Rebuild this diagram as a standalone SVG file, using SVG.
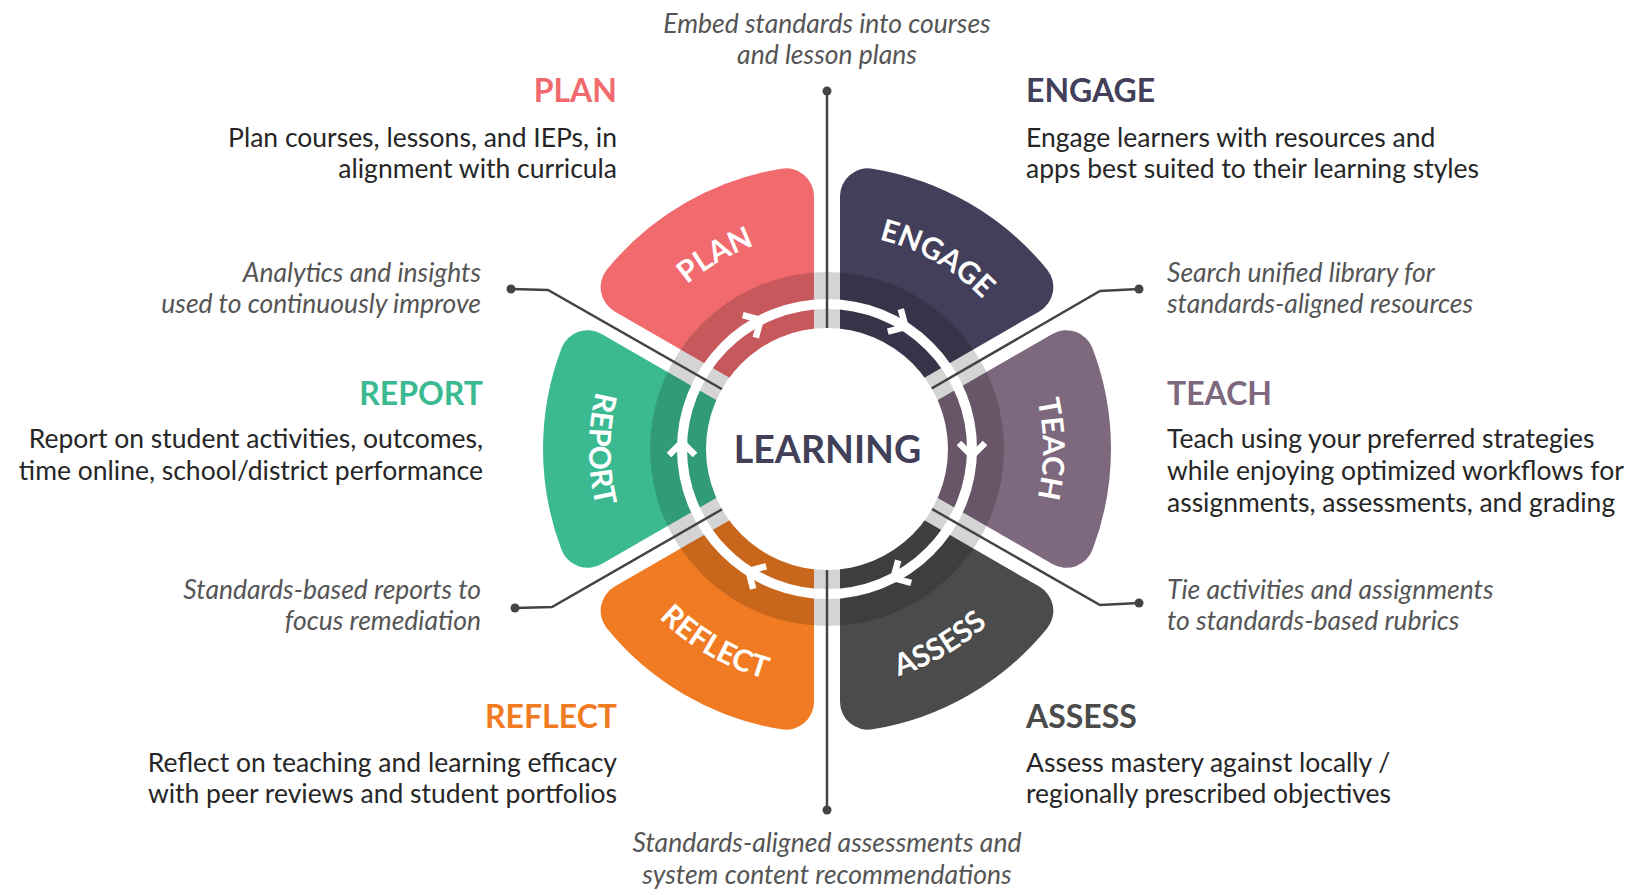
<svg xmlns="http://www.w3.org/2000/svg" xmlns:xlink="http://www.w3.org/1999/xlink" width="1633" height="895" viewBox="0 0 1633 895">
<style>
.h{font-family:Lato,"Liberation Sans",sans-serif;font-weight:700;font-size:32px}
.b{font-family:Lato,"Liberation Sans",sans-serif;font-size:26.5px;fill:#262626}
.n{font-family:Lato,"Liberation Sans",sans-serif;font-style:italic;font-size:26.5px;fill:#555}
.lbl{font-family:Lato,"Liberation Sans",sans-serif;font-weight:700;font-size:30px;fill:#fff}
.ctr{font-family:Lato,"Liberation Sans",sans-serif;font-weight:700;font-size:37.5px;fill:#423f59}
.con{fill:none;stroke:#444;stroke-width:2.5}
.dot{fill:#444}
.chev{fill:none;stroke:#fff;stroke-width:6.5;stroke-linejoin:miter}
</style>
<defs>
<path id="seg" d="M 38.74,-93.10 L 115.09,-225.34 A 28 28 0 0 0 100.77,-265.51 A 284 284 0 0 0 -100.77,-265.51 A 28 28 0 0 0 -115.09,-225.34 L -38.74,-93.10 Z"/>
<path id="pPlan" d="M 639.94 341 A 216 216 0 0 1 827 233"/>
<path id="pEngage" d="M 827 233 A 216 216 0 0 1 1014.06 341"/>
<path id="pTeach" d="M 1014.06 341 A 216 216 0 0 1 1014.06 557"/>
<path id="pReport" d="M 620.89 330 A 238 238 0 0 0 620.89 568"/>
<path id="pReflect" d="M 620.89 568 A 238 238 0 0 0 827 687"/>
<path id="pAssess" d="M 827 687 A 238 238 0 0 0 1033.11 568"/>
<path id="chev" d="M 959 443 L 972 456 L 985 443"/>
</defs>
<rect width="1633" height="895" fill="#fff"/>

<g id="plan">
<use xlink:href="#seg" href="#seg" transform="translate(827,449) rotate(-30)" fill="#f06a6e"/>
<text class="lbl"><textPath xlink:href="#pPlan" href="#pPlan" startOffset="50%" text-anchor="middle">PLAN</textPath></text>
</g>
<g id="engage">
<use xlink:href="#seg" href="#seg" transform="translate(827,449) rotate(30)" fill="#433f5a"/>
<text class="lbl"><textPath xlink:href="#pEngage" href="#pEngage" startOffset="50%" text-anchor="middle">ENGAGE</textPath></text>
</g>
<g id="teach">
<use xlink:href="#seg" href="#seg" transform="translate(827,449) rotate(90)" fill="#7d687d"/>
<text class="lbl"><textPath xlink:href="#pTeach" href="#pTeach" startOffset="50%" text-anchor="middle">TEACH</textPath></text>
</g>
<g id="assess">
<use xlink:href="#seg" href="#seg" transform="translate(827,449) rotate(150)" fill="#4a4b4a"/>
<text class="lbl"><textPath xlink:href="#pAssess" href="#pAssess" startOffset="50%" text-anchor="middle">ASSESS</textPath></text>
</g>
<g id="reflect">
<use xlink:href="#seg" href="#seg" transform="translate(827,449) rotate(210)" fill="#f17b22"/>
<text class="lbl"><textPath xlink:href="#pReflect" href="#pReflect" startOffset="50%" text-anchor="middle">REFLECT</textPath></text>
</g>
<g id="report">
<use xlink:href="#seg" href="#seg" transform="translate(827,449) rotate(-90)" fill="#3bba92"/>
<text class="lbl"><textPath xlink:href="#pReport" href="#pReport" startOffset="50%" text-anchor="middle">REPORT</textPath></text>
</g>

<g id="cycle-ring">
<circle cx="827" cy="449" r="177" fill="#000" fill-opacity="0.17"/>
<circle cx="827" cy="449" r="145" fill="none" stroke="#fff" stroke-width="10"/>
<use xlink:href="#chev" href="#chev" class="chev"/>
<use xlink:href="#chev" href="#chev" class="chev" transform="rotate(60 827 449)"/>
<use xlink:href="#chev" href="#chev" class="chev" transform="rotate(120 827 449)"/>
<use xlink:href="#chev" href="#chev" class="chev" transform="rotate(180 827 449)"/>
<use xlink:href="#chev" href="#chev" class="chev" transform="rotate(240 827 449)"/>
<use xlink:href="#chev" href="#chev" class="chev" transform="rotate(300 827 449)"/>
</g>

<g id="connectors">
<path class="con" d="M 827 91 V 449"/>
<path class="con" d="M 827 810 V 449"/>
<path class="con" d="M 511 289 L 548 290 L 827 449"/>
<path class="con" d="M 1139 289 L 1100 291 L 827 449"/>
<path class="con" d="M 515 608 L 552 607 L 827 449"/>
<path class="con" d="M 1139 603 L 1100 605 L 827 449"/>
<circle class="dot" cx="827" cy="91" r="4.5"/>
<circle class="dot" cx="827" cy="810" r="4.5"/>
<circle class="dot" cx="511" cy="289" r="4.5"/>
<circle class="dot" cx="1139" cy="289" r="4.5"/>
<circle class="dot" cx="515" cy="608" r="4.5"/>
<circle class="dot" cx="1139" cy="603" r="4.5"/>
</g>

<g id="learning">
<circle cx="827" cy="449" r="121" fill="#fff"/>
<text class="ctr" x="827.5" y="463" text-anchor="middle">LEARNING</text>
</g>

<g id="plan-text">
<text class="h" x="617" y="102" text-anchor="end" fill="#f06a6e">PLAN</text>
<text class="b" x="617" y="147" text-anchor="end">Plan courses, lessons, and IEPs, in</text>
<text class="b" x="617" y="178" text-anchor="end">alignment with curricula</text>
</g>
<g id="engage-text">
<text class="h" x="1026" y="102" fill="#433f5a">ENGAGE</text>
<text class="b" x="1026" y="147">Engage learners with resources and</text>
<text class="b" x="1026" y="178">apps best suited to their learning styles</text>
</g>
<g id="report-text">
<text class="h" x="483" y="405" text-anchor="end" fill="#3bba92">REPORT</text>
<text class="b" x="483" y="448" text-anchor="end">Report on student activities, outcomes,</text>
<text class="b" x="483" y="480" text-anchor="end">time online, school/district performance</text>
</g>
<g id="teach-text">
<text class="h" x="1167" y="405" fill="#7d687d">TEACH</text>
<text class="b" x="1167" y="448">Teach using your preferred strategies</text>
<text class="b" x="1167" y="480">while enjoying optimized workflows for</text>
<text class="b" x="1167" y="512">assignments, assessments, and grading</text>
</g>
<g id="reflect-text">
<text class="h" x="617" y="728" text-anchor="end" fill="#f17b22">REFLECT</text>
<text class="b" x="617" y="772" text-anchor="end">Reflect on teaching and learning efficacy</text>
<text class="b" x="617" y="803" text-anchor="end">with peer reviews and student portfolios</text>
</g>
<g id="assess-text">
<text class="h" x="1026" y="728" fill="#4a4b4a">ASSESS</text>
<text class="b" x="1026" y="772">Assess mastery against locally /</text>
<text class="b" x="1026" y="803">regionally prescribed objectives</text>
</g>

<g id="note-top">
<text class="n" x="827" y="33" text-anchor="middle">Embed standards into courses</text>
<text class="n" x="827" y="64" text-anchor="middle">and lesson plans</text>
</g>
<g id="note-upper-left">
<text class="n" x="481" y="282" text-anchor="end">Analytics and insights</text>
<text class="n" x="481" y="313" text-anchor="end">used to continuously improve</text>
</g>
<g id="note-upper-right">
<text class="n" x="1167" y="282">Search unified library for</text>
<text class="n" x="1167" y="313">standards-aligned resources</text>
</g>
<g id="note-lower-left">
<text class="n" x="481" y="599" text-anchor="end">Standards-based reports to</text>
<text class="n" x="481" y="630" text-anchor="end">focus remediation</text>
</g>
<g id="note-lower-right">
<text class="n" x="1167" y="599">Tie activities and assignments</text>
<text class="n" x="1167" y="630">to standards-based rubrics</text>
</g>
<g id="note-bottom">
<text class="n" x="827" y="852" text-anchor="middle">Standards-aligned assessments and</text>
<text class="n" x="827" y="884" text-anchor="middle">system content recommendations</text>
</g>
</svg>
